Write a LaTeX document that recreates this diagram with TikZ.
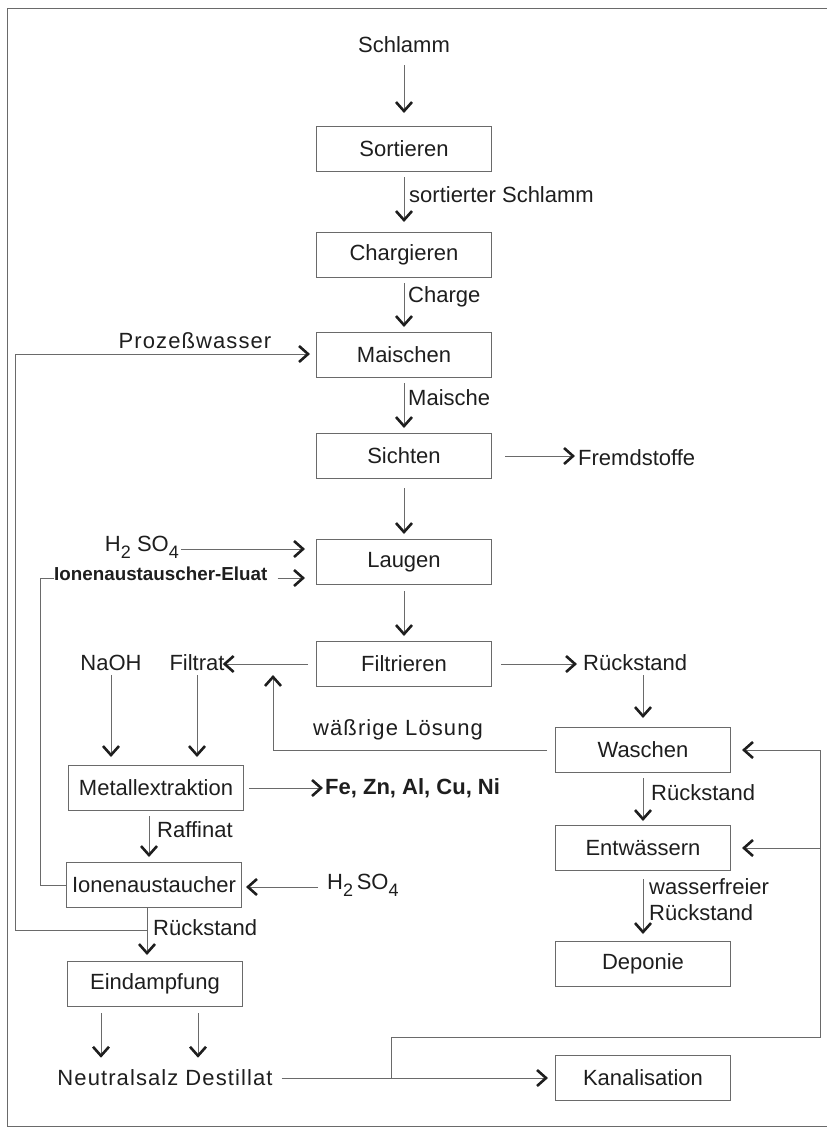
\documentclass[tikz,border=0pt]{standalone}
\usepackage{fontspec}
\setmainfont{Liberation Sans}
\usetikzlibrary{arrows.meta,calc}
\definecolor{ink}{HTML}{1E1E1E}
\definecolor{rule}{HTML}{6A6A6A}
% lowered, slightly smaller digits for chemical formulae
\newcommand\chemsub[1]{\raisebox{-6.5pt}{\fontsize{18}{20}\selectfont #1}}
\begin{document}
\begin{tikzpicture}[x=1pt,y=-1pt,
  every node/.style={font=\fontsize{22}{26}\selectfont, text=ink},
  stepbox/.style={draw=rule, line width=1pt, minimum width=175pt, minimum height=45pt, inner sep=0pt},
  lbl/.style={inner sep=0pt},
  wide/.style={font=\fontsize{22}{26}\selectfont\addfontfeature{LetterSpace=5}},
  conn/.style={draw=rule, line width=1pt},
  flow/.style={conn, -{Straight Barb[length=9pt,width=16pt,line width=2.6pt,color=ink]}}
]
\useasboundingbox (0,0) rectangle (827,1130);

% outer frame
\draw[conn] (840,8) -- (7,8) -- (7,1126) -- (840,1126);

% process steps
\node[stepbox] (sort)   at (404,149)  {Sortieren};
\node[stepbox] (charg)  at (404,255)  {Chargieren};
\node[stepbox] (maisch) at (404,355)  {Maischen};
\node[stepbox] (sicht)  at (404,456)  {Sichten};
\node[stepbox] (laug)   at (404,562)  {Laugen};
\node[stepbox] (filt)   at (404,664)  {Filtrieren};
\node[stepbox] (metal)  at (156,788)  {Metallextraktion};
\node[stepbox] (ion)    at (154,885)  {Ionenaustaucher};
\node[stepbox] (eind)   at (155,984)  {Eindampfung};
\node[stepbox] (wasch)  at (643,750)  {Waschen};
\node[stepbox] (entw)   at (643,848)  {Entwässern};
\node[stepbox] (depo)   at (643,964)  {Deponie};
\node[stepbox] (kanal)  at (643,1078) {Kanalisation};

% inputs and outputs
\node[lbl] (schlamm) at (404,45) {Schlamm};
\node[lbl,anchor=west] (fremd) at (578,458) {Fremdstoffe};
\node[lbl,anchor=west] (rs1) at (583,663) {Rückstand};
\node[lbl] (filtrat) at (197,663) {Filtrat};
\node[lbl] (naoh) at (111,663) {NaOH};
\node[lbl,anchor=west,font=\fontsize{22}{26}\selectfont\bfseries] (fe) at (325,788) {Fe, Zn, Al, Cu, Ni};
\node[lbl,anchor=mid east] (h2a) at (179,549) {H\chemsub{2} SO\chemsub{4}};
\node[lbl,anchor=mid west,font=\fontsize{18.8}{21}\selectfont\bfseries] (eluat) at (54,578) {Ionenaustauscher-Eluat};
\node[lbl,anchor=mid west] (h2b) at (327,887) {H\chemsub{2}\,SO\chemsub{4}};
\node[lbl,wide] (neutral) at (118,1078) {Neutralsalz};
\node[lbl,wide] (dest) at (229,1078) {Destillat};

% flow labels
\node[lbl,anchor=west] (lsortiert) at (409,195) {sortierter Schlamm};
\node[lbl,anchor=west] (lcharge)   at (408,297) {Charge};
\node[lbl,anchor=west] (lmaische)  at (408,398) {Maische};
\node[lbl,wide] (lprozess) at (195,341) {Prozeßwasser};
\node[lbl,wide,anchor=west] (lwaessrig) at (313,730) {wäßrige Lösung};
\node[lbl,anchor=west] (lraffinat) at (157,830) {Raffinat};
\node[lbl,anchor=west] (lrs2) at (153,928) {Rückstand};
\node[lbl,anchor=west] (lrs3) at (651,793) {Rückstand};
\node[lbl,anchor=west,align=left] (lwasserfrei) at (649,900) {wasserfreier\\Rückstand};

% main line
\draw[flow,shorten <=12pt,shorten >=13pt] (schlamm) -- (sort);
\draw[flow,shorten <=5pt,shorten >=10pt] (sort) -- (charg);
\draw[flow,shorten <=5pt,shorten >=5pt] (charg) -- (maisch);
\draw[flow,shorten <=5pt,shorten >=5pt] (maisch) -- (sicht);
\draw[flow,shorten <=9pt,shorten >=5pt] (sicht) -- (laug);
\draw[flow,shorten <=6pt,shorten >=5pt] (laug) -- (filt);
\draw[flow,shorten <=13pt,shorten >=3pt] (sicht.east) -- (sicht.east -| fremd.west);

% acid and eluate into leaching
\draw[flow,shorten <=2pt,shorten >=11pt] (h2a.mid east) -- (h2a.mid east -| laug.west);
\draw[flow,shorten <=10pt,shorten >=11pt] (eluat.mid east) -- (eluat.mid east -| laug.west);

% filtration
\draw[flow,shorten <=8pt,shorten >=-2pt] (filt.west) -- (filt.west -| filtrat.east);
\draw[flow,shorten <=9pt,shorten >=6pt] (filt.east) -- (filt.east -| rs1.west);
\draw[flow,shorten <=4pt,shorten >=9pt] (rs1.south -| wasch.north) -- (wasch.north);
\coordinate (wlcorner) at (273,750);
\coordinate (wltip) at (273,675);
\draw[flow,shorten <=8pt] (wasch.west) -- (wlcorner) -- (wltip);

% residue treatment
\draw[flow,shorten <=5pt,shorten >=4pt] (wasch) -- (entw);
\draw[flow,shorten <=8pt,shorten >=7pt] (entw) -- (depo);

% metal extraction
\draw[flow,shorten <=4pt,shorten >=8pt] (naoh.south) -- (naoh.south |- metal.north);
\draw[flow,shorten <=4pt,shorten >=8pt] (filtrat.south) -- (filtrat.south |- metal.north);
\draw[flow,shorten <=5pt,shorten >=2pt] (metal.east) -- (metal.east -| fe.west);
\draw[flow,shorten <=5pt,shorten >=5pt] ([xshift=-7pt]metal.south) -- ([xshift=-7pt]metal.south |- ion.north);

% ion exchanger
\draw[flow,shorten <=9pt,shorten >=4pt] (h2b.mid west) -- (h2b.mid west -| ion.east);
\coordinate (elcorner) at (40,578);
\draw[conn] (ion.west) -| (elcorner) -- (eluat.mid west);

% process water loop and evaporation
\coordinate (junc) at (147,930);
\coordinate (pwlow) at (15,930);
\coordinate (pwhigh) at (15,354);
\draw[flow,shorten >=6pt] (junc) -- (pwlow) -- (pwhigh) -- (pwhigh -| maisch.west);
\draw[flow,shorten >=6pt] (ion.south -| junc) -- (eind.north -| junc);
\draw[flow,shorten <=6pt,shorten >=12pt] ([xshift=-54pt]eind.south) -- ([xshift=-54pt]eind.south |- neutral.north);
\draw[flow,shorten <=6pt,shorten >=12pt] ([xshift=43pt]eind.south) -- ([xshift=43pt]eind.south |- dest.north);

% distillate to sewer, partly returned
\draw[flow,shorten <=9pt,shorten >=7pt] (dest.east) -- (dest.east -| kanal.west);
\coordinate (brfoot) at (391,1078);
\coordinate (brright) at (820,1037);
\draw[conn] (brfoot) |- (brright) -- (brright |- wasch.east);
\draw[flow,shorten >=11pt] (brright |- wasch.east) -- (wasch.east);
\draw[flow,shorten >=11pt] (brright |- entw.east) -- (entw.east);
\end{tikzpicture}
\end{document}
